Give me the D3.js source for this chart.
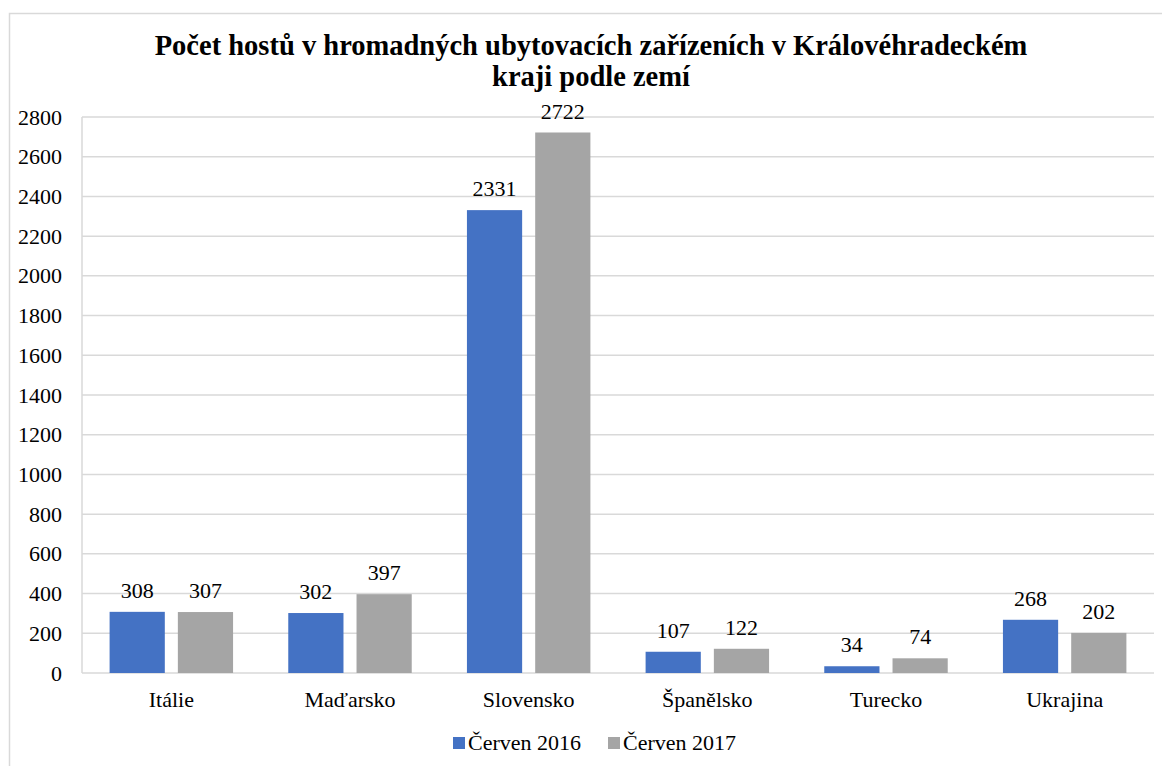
<!DOCTYPE html>
<html>
<head>
<meta charset="utf-8">
<script src="https://cdn.jsdelivr.net/npm/d3@7"></script>
<style>
	body { margin: 0; background: #fff; }
	svg text { font-family: "Liberation Serif", "Times New Roman", serif; fill: #000; }
</style>
</head>
<body>
<div id="chart"></div>
<script>

const categories = [ "Itálie", "Maďarsko", "Slovensko", "Španělsko", "Turecko", "Ukrajina" ];
const series_names = [ "Červen 2016", "Červen 2017" ];
const values_2016 = [ 308, 302, 2331, 107, 34, 268 ];
const values_2017 = [ 307, 397, 2722, 122, 74, 202 ];
const y_ticks = [ 0, 200, 400, 600, 800, 1000, 1200, 1400, 1600, 1800, 2000, 2200, 2400, 2600, 2800 ];
const colors = [ "#4472C4", "#A5A5A5" ];

///////////////////////////////////////////////////////////////////////

const width = 1162, height = 766;
const margin = { left: 82, right: 8, top: 117, bottom: 93 };
const plot_w = width - margin.left - margin.right;
const plot_h = height - margin.top - margin.bottom;

let svg = d3.select( "#chart" )
	.append( "svg" )
	.attr( "width", width )
	.attr( "height", height );

// outer frame
svg.append( "rect" )
	.attr( "x", 9.5 ).attr( "y", 13.5 )
	.attr( "width", width + 10 ).attr( "height", height + 10 )
	.attr( "fill", "none" )
	.attr( "stroke", "#d9d9d9" )
	.attr( "stroke-width", 1.5 );

svg.append( "text" )
	.attr( "x", 591 ).attr( "y", 55 )
	.attr( "text-anchor", "middle" )
	.attr( "font-size", 28.5 ).attr( "font-weight", "bold" )
	.text( "Počet hostů v hromadných ubytovacích zařízeních v Královéhradeckém" );
svg.append( "text" )
	.attr( "x", 591 ).attr( "y", 86 )
	.attr( "text-anchor", "middle" )
	.attr( "font-size", 28.5 ).attr( "font-weight", "bold" )
	.text( "kraji podle zemí" );

let g = svg.append( "g" )
	.attr( "transform", "translate(" + margin.left + "," + margin.top + ")" );

let X_scale = d3.scaleBand()
	.domain( categories )
	.range( [ 0, plot_w ] );

let X_inner = d3.scaleBand()
	.domain( series_names )
	.range( [ 0, X_scale.bandwidth() ] )
	.paddingInner( 13 / 68 )
	.paddingOuter( 27.5 / 68 );

let Y_scale = d3.scaleLinear()
	.domain( [ 0, 2800 ] )
	.range( [ plot_h, 0 ] );

// grid
g.selectAll( "line.grid" )
	.data( y_ticks )
	.join( "line" )
		.attr( "class", "grid" )
		.attr( "x1", 0 ).attr( "x2", plot_w )
		.attr( "y1", d => Y_scale( d ) ).attr( "y2", d => Y_scale( d ) )
		.attr( "stroke", "#d9d9d9" )
		.attr( "stroke-width", 1.5 );

g.append( "line" )
	.attr( "x1", 0 ).attr( "x2", 0 )
	.attr( "y1", 0 ).attr( "y2", plot_h )
	.attr( "stroke", "#d9d9d9" )
	.attr( "stroke-width", 1.5 );

let y_axis = g.append( "g" )
	.call( d3.axisLeft( Y_scale ).tickValues( y_ticks ).tickFormat( d3.format( "d" ) ).tickSize( 0 ).tickPadding( 20 ) );
y_axis.select( ".domain" ).remove();
y_axis.selectAll( "text" )
	.style( "font-size", "22px" )
	.style( "font-family", "'Liberation Serif', serif" );

let x_axis = g.append( "g" )
	.attr( "transform", "translate(0," + plot_h + ")" )
	.call( d3.axisBottom( X_scale ).tickSize( 0 ).tickPadding( 0 ) );
x_axis.select( ".domain" ).remove();
x_axis.selectAll( "text" )
	.attr( "dy", null )
	.attr( "y", 34 )
	.style( "font-size", "22px" )
	.style( "font-family", "'Liberation Serif', serif" );

// bars
let all_series = [ values_2016, values_2017 ];
let rows = [];
all_series.forEach( ( vals, s ) => {
	vals.forEach( ( v, i ) => rows.push( { cat: categories[ i ], series: series_names[ s ], s, v } ) );
} );

g.selectAll( "rect.bar" )
	.data( rows )
	.join( "rect" )
		.attr( "class", "bar" )
		.attr( "x", d => X_scale( d.cat ) + X_inner( d.series ) )
		.attr( "y", d => Y_scale( d.v ) )
		.attr( "width", X_inner.bandwidth() )
		.attr( "height", d => plot_h - Y_scale( d.v ) )
		.attr( "fill", d => colors[ d.s ] );

g.selectAll( "text.lbl" )
	.data( rows )
	.join( "text" )
		.attr( "class", "lbl" )
		.attr( "x", d => X_scale( d.cat ) + X_inner( d.series ) + X_inner.bandwidth() / 2 )
		.attr( "y", d => Y_scale( d.v ) - 14 )
		.attr( "text-anchor", "middle" )
		.style( "font-size", "22px" )
		.text( d => d.v );

// legend
let legend = svg.append( "g" );
let leg_x = [ 453, 608 ];
series_names.forEach( ( name, s ) => {
	legend.append( "rect" )
		.attr( "x", leg_x[ s ] ).attr( "y", 737 )
		.attr( "width", 12 ).attr( "height", 12 )
		.attr( "fill", colors[ s ] );
	legend.append( "text" )
		.attr( "x", leg_x[ s ] + 15 ).attr( "y", 750 )
		.style( "font-size", "22px" )
		.text( name );
} );

</script>
</body>
</html>
